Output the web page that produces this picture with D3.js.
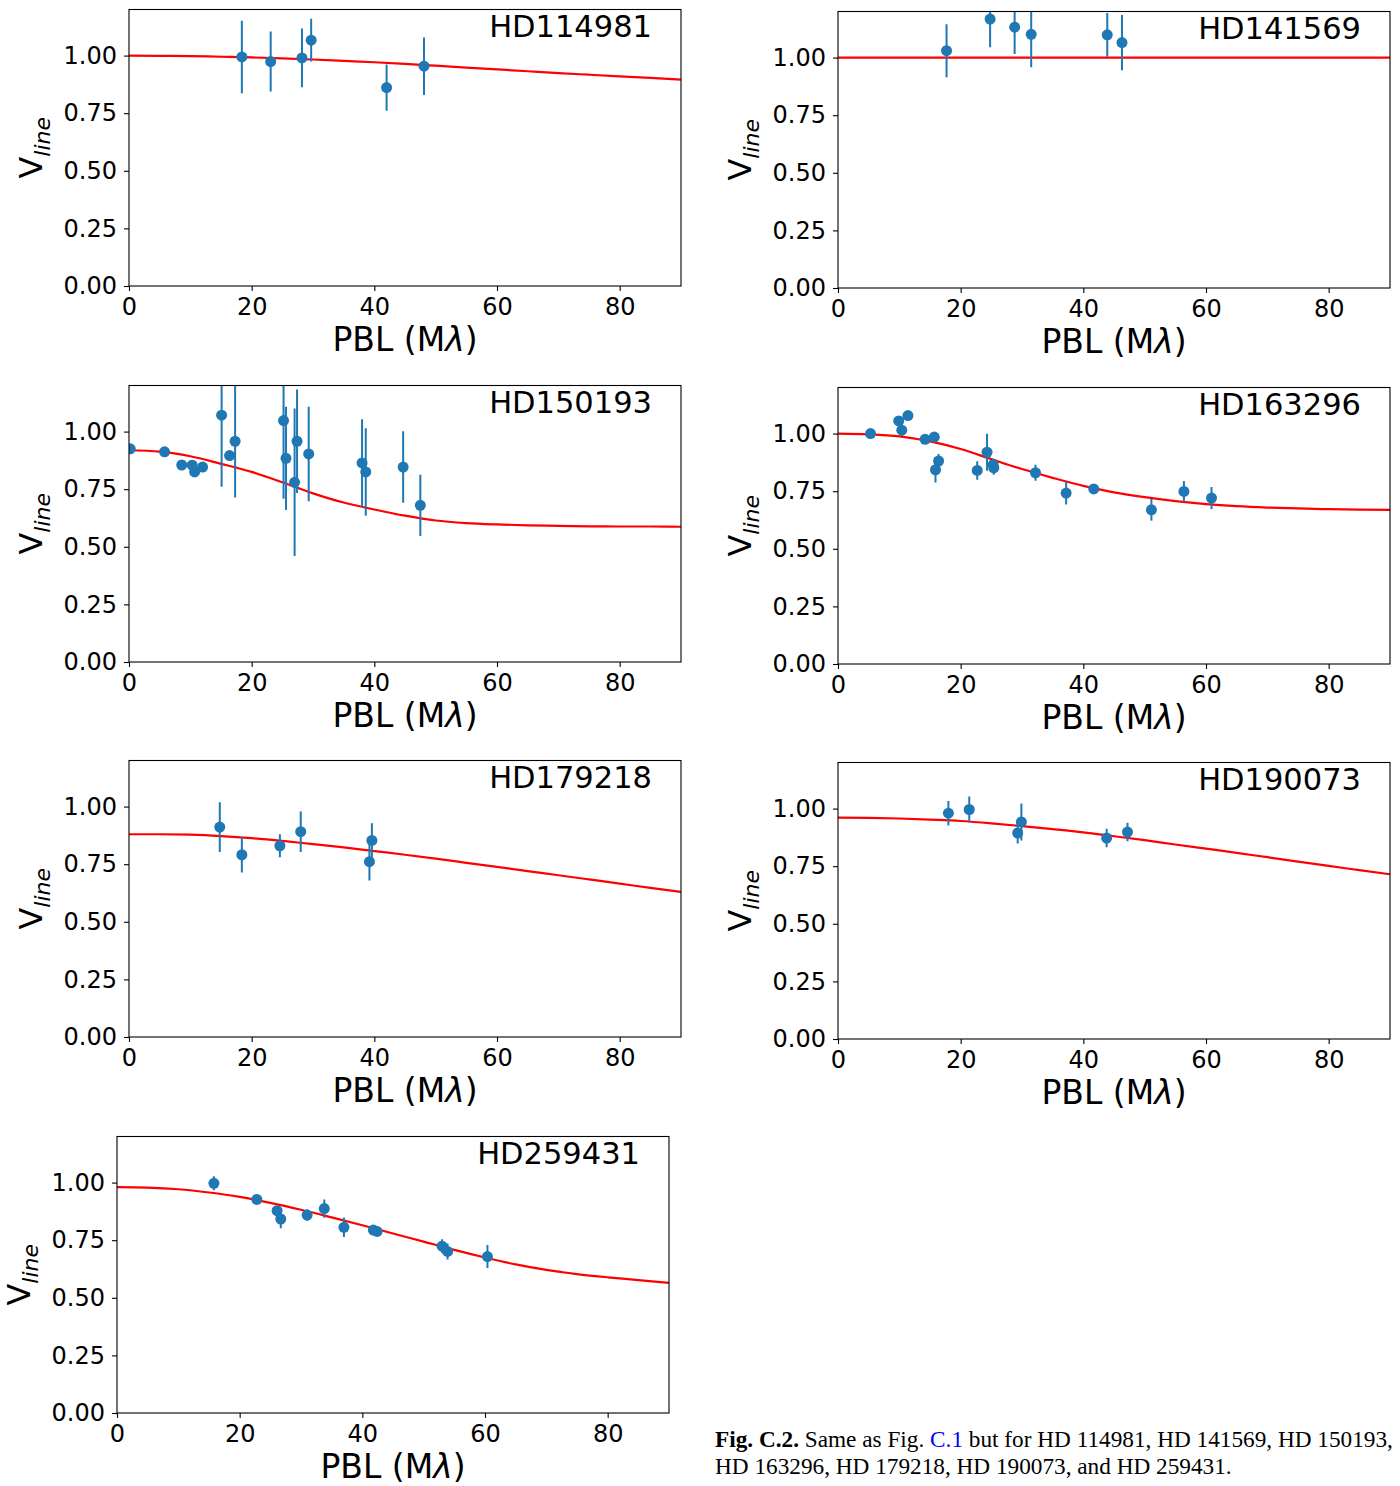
<!DOCTYPE html>
<html>
<head>
<meta charset="utf-8">
<script src="https://cdn.jsdelivr.net/npm/d3@7"></script>
<style>
  html, body { margin: 0; padding: 0; background: #fff; }
  text { white-space: pre; }
</style>
</head>
<body>
<script>
// ---------------- DATA ----------------
const starNames = ["HD114981", "HD141569", "HD150193", "HD163296", "HD179218", "HD190073", "HD259431"];
const xTicks = [0, 20, 40, 60, 80];
const yTicks = [0, 0.25, 0.5, 0.75, 1.0];
const modelPBL = [0, 5, 10, 15, 20, 25, 30, 35, 40, 45, 50, 55, 60, 65, 70, 75, 80, 85, 90];

const hd114981PBL = [18.4, 23.1, 28.2, 29.7, 42.0, 48.1];
const hd114981V   = [0.994, 0.974, 0.990, 1.067, 0.861, 0.954];
const hd114981Err = [0.157, 0.130, 0.127, 0.093, 0.100, 0.125];
const hd114981Model = [1.000, 0.999, 0.998, 0.995, 0.992, 0.988, 0.983, 0.977, 0.971, 0.964, 0.956, 0.948, 0.940, 0.932, 0.924, 0.917, 0.910, 0.903, 0.896];

const hd141569PBL = [17.7, 24.8, 28.8, 31.5, 43.9, 46.3];
const hd141569V   = [1.030, 1.167, 1.132, 1.101, 1.099, 1.065];
const hd141569Err = [0.115, 0.122, 0.116, 0.143, 0.095, 0.120];
const hd141569Model = [1, 1, 1, 1, 1, 1, 1, 1, 1, 1, 1, 1, 1, 1, 1, 1, 1, 1, 1];

const hd150193PBL = [0.2, 5.8, 8.6, 10.3, 10.7, 12.0, 15.1, 16.4, 17.3, 25.2, 25.6, 27.0, 27.4, 29.3, 38.0, 38.6, 44.7, 47.5];
const hd150193V   = [0.925, 0.912, 0.855, 0.854, 0.825, 0.846, 1.071, 0.896, 0.958, 1.048, 0.884, 0.780, 0.958, 0.903, 0.864, 0.825, 0.846, 0.680];
const hd150193Err = [0.010, 0.010, 0.010, 0.010, 0.010, 0.010, 0.310, 0.010, 0.244, 0.340, 0.224, 0.320, 0.225, 0.205, 0.190, 0.190, 0.155, 0.133];
const hd150193Model = [0.919, 0.913, 0.893, 0.860, 0.825, 0.780, 0.732, 0.692, 0.662, 0.635, 0.614, 0.603, 0.597, 0.593, 0.591, 0.589, 0.588, 0.588, 0.587];

const hd163296PBL = [5.3, 9.9, 10.4, 11.4, 14.2, 15.7, 15.9, 16.4, 22.7, 24.3, 25.3, 25.4, 32.2, 37.2, 41.7, 51.1, 56.4, 60.9];
const hd163296V   = [1.000, 1.055, 1.015, 1.078, 0.975, 0.985, 0.843, 0.881, 0.840, 0.919, 0.865, 0.851, 0.830, 0.742, 0.760, 0.669, 0.749, 0.720];
const hd163296Err = [0.015, 0.020, 0.025, 0.015, 0.020, 0.020, 0.055, 0.030, 0.040, 0.080, 0.025, 0.030, 0.035, 0.050, 0.020, 0.047, 0.045, 0.048];
const hd163296Model = [1.000, 0.997, 0.988, 0.966, 0.933, 0.889, 0.846, 0.808, 0.773, 0.745, 0.724, 0.707, 0.694, 0.685, 0.679, 0.675, 0.672, 0.670, 0.669];

const hd179218PBL = [14.8, 18.4, 24.6, 28.0, 39.6, 39.2];
const hd179218V   = [0.911, 0.791, 0.830, 0.891, 0.853, 0.761];
const hd179218Err = [0.108, 0.077, 0.050, 0.088, 0.075, 0.082];
const hd179218Model = [0.880, 0.880, 0.878, 0.872, 0.863, 0.851, 0.837, 0.823, 0.807, 0.791, 0.774, 0.756, 0.738, 0.720, 0.702, 0.684, 0.666, 0.647, 0.630];

const hd190073PBL = [18.0, 21.4, 29.3, 29.9, 43.8, 47.2];
const hd190073V   = [0.980, 0.996, 0.894, 0.942, 0.872, 0.898];
const hd190073Err = [0.053, 0.056, 0.045, 0.080, 0.040, 0.040];
const hd190073Model = [0.961, 0.960, 0.957, 0.952, 0.946, 0.936, 0.924, 0.911, 0.897, 0.880, 0.863, 0.844, 0.826, 0.808, 0.789, 0.770, 0.751, 0.733, 0.715];

const hd259431PBL = [15.8, 22.8, 26.1, 26.7, 31.0, 33.8, 37.0, 41.8, 42.4, 53.0, 53.9, 60.4];
const hd259431V   = [0.997, 0.927, 0.878, 0.842, 0.859, 0.887, 0.806, 0.794, 0.788, 0.724, 0.701, 0.679];
const hd259431Err = [0.030, 0.015, 0.020, 0.040, 0.025, 0.040, 0.042, 0.010, 0.010, 0.030, 0.035, 0.050];
const hd259431Model = [0.980, 0.978, 0.971, 0.957, 0.938, 0.912, 0.882, 0.849, 0.815, 0.779, 0.744, 0.708, 0.675, 0.645, 0.621, 0.603, 0.589, 0.577, 0.565];

const allPBL   = [hd114981PBL, hd141569PBL, hd150193PBL, hd163296PBL, hd179218PBL, hd190073PBL, hd259431PBL];
const allV     = [hd114981V, hd141569V, hd150193V, hd163296V, hd179218V, hd190073V, hd259431V];
const allErr   = [hd114981Err, hd141569Err, hd150193Err, hd163296Err, hd179218Err, hd190073Err, hd259431Err];
const allModel = [hd114981Model, hd141569Model, hd150193Model, hd163296Model, hd179218Model, hd190073Model, hd259431Model];

// ---------------- LAYOUT ----------------
const panelPos = [
  {left: 129, top: 9.5}, {left: 838, top: 11.5},
  {left: 129, top: 385.5}, {left: 838, top: 387.5},
  {left: 129, top: 760.5}, {left: 838, top: 762.5},
  {left: 117, top: 1136.5}
];
const W = 552, H = 276.5;
const blue = "#1f77b4";
const font = "'DejaVu Sans', sans-serif";

const svg = d3.select("body").append("svg")
  .attr("width", 1400).attr("height", 1486)
  .attr("xmlns", "http://www.w3.org/2000/svg");
svg.append("rect").attr("width", 1400).attr("height", 1486).attr("fill", "#fff");

starNames.forEach((name, i) => {
  const pos = panelPos[i];
  const x = d3.scaleLinear().domain([0, 90]).range([0, W]);
  const y = d3.scaleLinear().domain([0, 1.2]).range([H, 0]);
  const g = svg.append("g").attr("transform", `translate(${pos.left},${pos.top})`);

  const clipId = "clip" + i;
  g.append("clipPath").attr("id", clipId)
    .append("rect").attr("width", W).attr("height", H);

  const plot = g.append("g").attr("clip-path", `url(#${clipId})`);

  // model curve
  const modelData = modelPBL.map((b, k) => [b, allModel[i][k]]);
  plot.append("path")
    .datum(modelData)
    .attr("fill", "none")
    .attr("stroke", "#ff0000")
    .attr("stroke-width", 2.2)
    .attr("d", d3.line().x(d => x(d[0])).y(d => y(d[1])).curve(d3.curveMonotoneX));

  const pts = allPBL[i].map((b, k) => ({b: b, v: allV[i][k], e: allErr[i][k]}));

  // error bars
  plot.selectAll("line.err").data(pts).enter().append("line")
    .attr("class", "err")
    .attr("x1", d => x(d.b)).attr("x2", d => x(d.b))
    .attr("y1", d => y(d.v - d.e)).attr("y2", d => y(d.v + d.e))
    .attr("stroke", blue).attr("stroke-width", 2);

  // markers
  plot.selectAll("circle").data(pts).enter().append("circle")
    .attr("cx", d => x(d.b)).attr("cy", d => y(d.v))
    .attr("r", 5.5).attr("fill", blue);

  // axes
  const ya = g.append("g")
    .call(d3.axisLeft(y).tickValues(yTicks).tickFormat(d3.format(".2f")).tickSize(5).tickPadding(7));
  const xa = g.append("g").attr("transform", `translate(0,${H})`)
    .call(d3.axisBottom(x).tickValues(xTicks).tickFormat(d3.format("d")).tickSize(5).tickPadding(7));
  [ya, xa].forEach(a => {
    a.select(".domain").remove();
    a.selectAll(".tick line").attr("stroke", "#000").attr("stroke-width", 1.1);
    a.selectAll(".tick text").attr("font-family", font).attr("font-size", 24).attr("fill", "#000");
  });

  // frame
  g.append("rect").attr("width", W).attr("height", H)
    .attr("fill", "none").attr("stroke", "#000").attr("stroke-width", 1.1);

  // star name
  g.append("text").attr("x", W - 29).attr("y", 27.8)
    .attr("text-anchor", "end").attr("font-family", font).attr("font-size", 30.5)
    .text(name);

  // x label
  const xl = g.append("text").attr("x", W / 2).attr("y", H + 65)
    .attr("text-anchor", "middle").attr("font-family", font).attr("font-size", 33);
  xl.append("tspan").text("PBL (M");
  xl.append("tspan").attr("font-style", "italic").text("λ");
  xl.append("tspan").text(")");

  // y label
  const yl = g.append("text")
    .attr("transform", `translate(-87,${H / 2}) rotate(-90)`)
    .attr("text-anchor", "middle").attr("font-family", font).attr("font-size", 32);
  yl.append("tspan").text("V");
  yl.append("tspan").attr("font-size", 22).attr("font-style", "italic").attr("dy", 8).text("line");
});

// ---------------- CAPTION ----------------
const serif = "'Liberation Serif', 'Times New Roman', serif";
const cap1 = svg.append("text").attr("x", 715).attr("y", 1447)
  .attr("font-family", serif).attr("font-size", 21).attr("fill", "#000");
cap1.append("tspan").attr("font-weight", "bold").text("Fig. C.2.");
cap1.append("tspan").text(" Same as Fig. ");
cap1.append("tspan").attr("fill", "#0000ff").text("C.1");
cap1.append("tspan").text(" but for HD 114981, HD 141569, HD 150193,");
const cap2 = svg.append("text").attr("x", 715).attr("y", 1474)
  .attr("font-family", serif).attr("font-size", 21).attr("fill", "#000")
  .text("HD 163296, HD 179218, HD 190073, and HD 259431.");
const len = cap1.node().getComputedTextLength();
if (len > 0) {
  const fs = 21 * 678 / len;
  cap1.attr("font-size", fs);
  cap2.attr("font-size", fs);
}
</script>
</body>
</html>
